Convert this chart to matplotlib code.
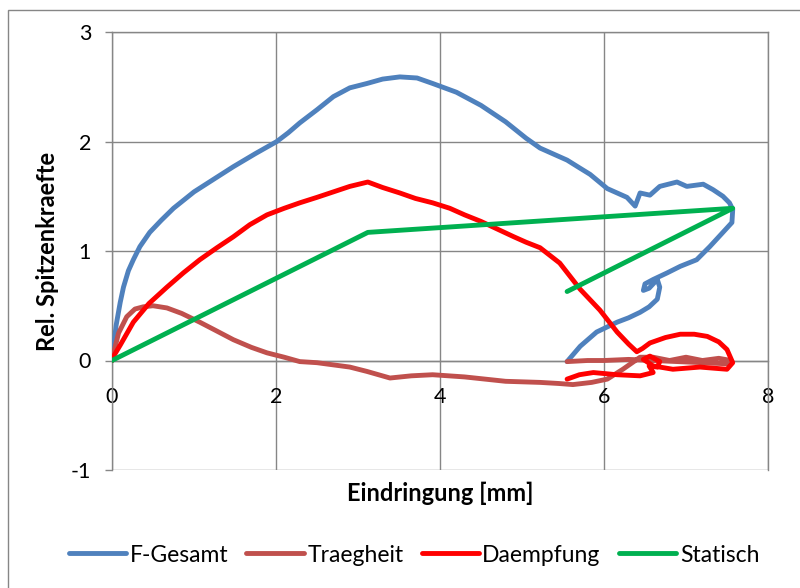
import matplotlib
matplotlib.use("Agg")
import matplotlib.pyplot as plt
from matplotlib.patches import Rectangle

plt.rcParams['font.family'] = ['Lato', 'DejaVu Sans']
plt.rcParams['axes.unicode_minus'] = False

# Eindringung [mm] / relative Spitzenkraefte
gesamt_x = [0.0, 0.02, 0.05, 0.10, 0.14, 0.20, 0.26, 0.34, 0.46, 0.60, 0.75, 1.00,
            1.25, 1.48, 1.75, 2.01, 2.15, 2.29, 2.50, 2.70, 2.90, 3.11, 3.30, 3.51,
            3.72, 3.91, 4.20, 4.50, 4.80, 5.05, 5.22, 5.40, 5.55, 5.70, 5.83, 6.04,
            6.16, 6.28, 6.38, 6.44, 6.56, 6.68, 6.89, 7.01, 7.21, 7.33, 7.45, 7.53,
            7.57, 7.56, 7.45, 7.29, 7.13, 6.93, 6.77, 6.60, 6.50, 6.48, 6.55, 6.65,
            6.68, 6.65, 6.55, 6.44, 6.30, 6.16, 5.91, 5.71, 5.55]
gesamt_y = [0.0, 0.12, 0.32, 0.53, 0.67, 0.82, 0.92, 1.04, 1.17, 1.28, 1.39, 1.54,
            1.66, 1.77, 1.89, 2.00, 2.08, 2.17, 2.29, 2.41, 2.49, 2.53, 2.57, 2.59,
            2.58, 2.53, 2.45, 2.33, 2.18, 2.03, 1.94, 1.88, 1.83, 1.76, 1.70, 1.57,
            1.53, 1.49, 1.41, 1.53, 1.51, 1.59, 1.63, 1.59, 1.61, 1.56, 1.50, 1.44,
            1.38, 1.26, 1.17, 1.04, 0.92, 0.86, 0.80, 0.74, 0.70, 0.64, 0.66, 0.74,
            0.67, 0.56, 0.49, 0.44, 0.39, 0.35, 0.26, 0.13, -0.01]

traeg_x = [0.0, 0.02, 0.08, 0.18, 0.28, 0.38, 0.50, 0.67, 0.85, 1.07, 1.25, 1.48,
           1.70, 1.89, 2.10, 2.29, 2.50, 2.70, 2.90, 3.11, 3.25, 3.39, 3.65, 3.91,
           4.30, 4.80, 5.22, 5.45, 5.62, 5.85, 6.04, 6.23, 6.44, 6.60, 6.80, 7.00,
           7.20, 7.40, 7.55, 7.50, 7.20, 6.90, 6.60, 6.30, 6.00, 5.80, 5.55]
traeg_y = [0.0, 0.07, 0.25, 0.40, 0.47, 0.49, 0.50, 0.48, 0.43, 0.35, 0.28, 0.19,
           0.12, 0.07, 0.03, -0.01, -0.02, -0.04, -0.06, -0.10, -0.13, -0.16, -0.14,
           -0.13, -0.15, -0.19, -0.20, -0.21, -0.22, -0.20, -0.17, -0.08, 0.03,
           0.03, 0.00, 0.03, 0.00, 0.02, 0.00, -0.03, -0.02, -0.01, 0.00, 0.01, 0.00,
           0.00, -0.01]

daempf_x = [0.0, 0.02, 0.10, 0.26, 0.45, 0.67, 0.87, 1.07, 1.28, 1.48, 1.68, 1.89,
            2.10, 2.29, 2.50, 2.70, 2.90, 3.12, 3.30, 3.51, 3.70, 3.91, 4.12, 4.30,
            4.50, 4.70, 4.90, 5.05, 5.22, 5.46, 5.71, 5.95, 6.16, 6.30, 6.40, 6.47,
            6.56, 6.75, 6.93, 7.10, 7.26, 7.40, 7.50, 7.57, 7.50, 7.17, 6.84, 6.60,
            6.48, 6.56, 6.68, 6.65, 6.55, 6.60, 6.44, 6.16, 5.87, 5.70, 5.55]
daempf_y = [0.0, 0.04, 0.14, 0.35, 0.52, 0.67, 0.80, 0.92, 1.03, 1.13, 1.24, 1.33,
            1.39, 1.44, 1.49, 1.54, 1.59, 1.63, 1.58, 1.53, 1.48, 1.44, 1.39, 1.33,
            1.27, 1.20, 1.13, 1.08, 1.03, 0.89, 0.65, 0.46, 0.26, 0.15, 0.08, 0.11,
            0.16, 0.21, 0.24, 0.24, 0.22, 0.17, 0.10, -0.02, -0.08, -0.06, -0.08,
            -0.05, 0.01, 0.04, -0.01, -0.06, -0.05, -0.11, -0.14, -0.13, -0.11,
            -0.13, -0.17]

stat_x = [0.0, 3.12, 7.57, 5.55]
stat_y = [0.0, 1.17, 1.39, 0.63]

series = [
    ("F-Gesamt", gesamt_x, gesamt_y, "#4F81BD"),
    ("Traegheit", traeg_x, traeg_y, "#C0504D"),
    ("Daempfung", daempf_x, daempf_y, "#FF0000"),
    ("Statisch", stat_x, stat_y, "#00B050"),
]

x_ticks = [0, 2, 4, 6, 8]
y_ticks = [-1, 0, 1, 2, 3]

grid_c = "#868686"

fig = plt.figure(figsize=(8.0, 5.88), dpi=100)
ax = fig.add_axes([112 / 800, 118 / 588, 656 / 800, 438 / 588])

for name, xs, ys, col in series:
    ax.plot(xs, ys, color=col, lw=3.5, label=name,
            solid_joinstyle="round", solid_capstyle="round", zorder=3)

ax.set_xlim(0, 8)
ax.set_ylim(-1, 3)
ax.set_xticks(x_ticks)
ax.set_yticks(y_ticks)
ax.grid(True, color=grid_c, lw=1.0, zorder=0)

for side in ("top", "right", "left"):
    ax.spines[side].set_color(grid_c)
    ax.spines[side].set_linewidth(1.0)
ax.spines["bottom"].set_position(("data", 0))
ax.spines["bottom"].set_color(grid_c)
ax.spines["bottom"].set_linewidth(1.0)
ax.spines["bottom"].set_zorder(1)

ax.tick_params(axis="y", direction="out", length=5, width=1.0, color=grid_c,
               pad=10, labelsize=15.5)
ax.tick_params(axis="x", length=0, pad=19, labelsize=15.5)

ax.set_xlabel("Eindringung [mm]", fontsize=17, fontweight="bold")
ax.set_ylabel("Rel. Spitzenkraefte", fontsize=17, fontweight="bold")
ax.xaxis.set_label_coords(0.5, -0.0525)
ax.xaxis.label.set_va("center")
ax.yaxis.set_label_coords(-0.098, 0.5)
ax.yaxis.label.set_va("center")

leg = fig.legend(loc="center", bbox_to_anchor=(414 / 800, 1 - 555 / 588), ncol=4,
                 frameon=False, fontsize=16.5, handlelength=2.5, handletextpad=0.15,
                 columnspacing=0.8, borderaxespad=0)
for ln in leg.get_lines():
    ln.set_linewidth(3.5)
    ln.set_solid_capstyle("round")

fig.patches.append(Rectangle((8 / 800, -0.1), 1.2, 1 - 10 / 588 + 0.1,
                             transform=fig.transFigure, fill=False,
                             edgecolor=grid_c, lw=1.0))

fig.savefig("out.png", dpi=100)
